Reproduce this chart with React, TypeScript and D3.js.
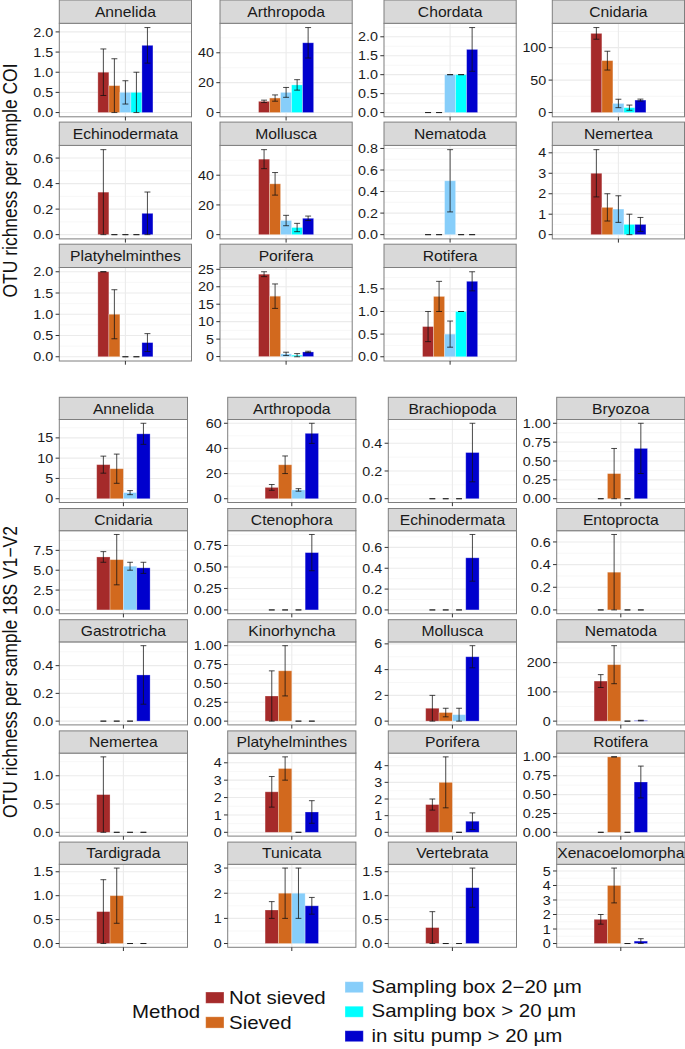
import React from "react";
import * as d3 from "d3";

// ---------------- DATA ----------------
const methods = [
  "Not sieved",
  "Sieved",
  "Sampling box 2\u221220 \u00b5m",
  "Sampling box > 20 \u00b5m",
  "in situ pump > 20 \u00b5m",
];
const methodColors = ["#A52A2A", "#D2691E", "#87CEFA", "#00FFFF", "#0000CD"];

// COI (all 5 methods)
const coiTaxa = [
  "Annelida", "Arthropoda", "Chordata", "Cnidaria",
  "Echinodermata", "Mollusca", "Nematoda", "Nemertea",
  "Platyhelminthes", "Porifera", "Rotifera",
];
const coiMeans = [
  [1.0, 0.667, 0.5, 0.5, 1.667],
  [7.5, 9.7, 13.5, 18.5, 46.7],
  [0, 0, 1.0, 1.0, 1.667],
  [122, 80, 14, 7.5, 19.2],
  [0.333, 0, 0, 0, 0.167],
  [50.8, 34.2, 9.5, 4.8, 11],
  [0, 0, 0.5, 0, 0],
  [3, 1.333, 1.25, 0.5, 0.5],
  [2, 1, 0, 0, 0.333],
  [23.6, 17.3, 0.77, 0.4, 1.33],
  [0.667, 1.333, 0.5, 1.0, 1.667],
];
const coiSE = [
  [0.577, 0.667, 0.289, 0.5, 0.441],
  [0.8, 2.1, 3.3, 3.5, 10.2],
  [0, 0, 0, 0, 0.577],
  [9, 14.5, 6.5, 4, 1.5],
  [0.333, 0, 0, 0, 0.167],
  [6.4, 7.6, 3.5, 2.8, 1.5],
  [0, 0, 0.289, 0, 0],
  [1.155, 0.667, 0.65, 0.5, 0.34],
  [0, 0.577, 0, 0, 0.211],
  [0.7, 3.5, 0.48, 0.45, 0.2],
  [0.333, 0.333, 0.289, 0, 0.211],
];
const coiTicks = [
  ["0.0", "0.5", "1.0", "1.5", "2.0"],
  ["0", "20", "40"],
  ["0.0", "0.5", "1.0", "1.5", "2.0"],
  ["0", "50", "100"],
  ["0.0", "0.2", "0.4", "0.6"],
  ["0", "20", "40"],
  ["0.0", "0.2", "0.4", "0.6", "0.8"],
  ["0", "1", "2", "3", "4"],
  ["0.0", "0.5", "1.0", "1.5", "2.0"],
  ["0", "5", "10", "15", "20", "25"],
  ["0.0", "0.5", "1.0", "1.5"],
];

// 18S V1-V2 (4 methods: Not sieved, Sieved, Sampling box 2-20, in situ pump)
const s18MethodIdx = [0, 1, 2, 4];
const s18Taxa = [
  "Annelida", "Arthropoda", "Brachiopoda", "Bryozoa",
  "Cnidaria", "Ctenophora", "Echinodermata", "Entoprocta",
  "Gastrotricha", "Kinorhyncha", "Mollusca", "Nematoda",
  "Nemertea", "Platyhelminthes", "Porifera", "Rotifera",
  "Tardigrada", "Tunicata", "Vertebrata", "Xenacoelomorpha",
];
const s18Means = [
  [8.4, 7.4, 1.5, 16],
  [9, 27, 7, 52],
  [0, 0, 0, 0.333],
  [0, 0.333, 0, 0.667],
  [6.67, 6.33, 5.5, 5.3],
  [0, 0, 0, 0.667],
  [0, 0, 0, 0.5],
  [0, 0.333, 0, 0],
  [0, 0, 0, 0.333],
  [0.333, 0.667, 0, 0],
  [1, 0.667, 0.5, 5],
  [137, 193, 0, 2],
  [0.667, 0, 0, 0],
  [2.33, 3.67, 0, 1.17],
  [1.667, 3, 0, 0.667],
  [0, 1, 0, 0.667],
  [0.667, 1, 0, 0],
  [1.333, 2, 2, 1.5],
  [0.333, 0, 0, 1.167],
  [1.667, 4, 0, 0.167],
];
const s18SE = [
  [2.1, 3.6, 0.5, 2.6],
  [2.3, 7, 1, 8],
  [0, 0, 0, 0.211],
  [0, 0.333, 0, 0.333],
  [0.67, 3.17, 0.5, 0.7],
  [0, 0, 0, 0.211],
  [0, 0, 0, 0.224],
  [0, 0.333, 0, 0],
  [0, 0, 0, 0.211],
  [0.333, 0.333, 0, 0],
  [1, 0.333, 0.5, 0.86],
  [22, 65, 0, 1],
  [0.667, 0, 0, 0],
  [0.88, 0.67, 0, 0.65],
  [0.333, 1.53, 0, 0.5],
  [0, 0, 0, 0.211],
  [0.667, 0.577, 0, 0],
  [0.333, 1, 1, 0.333],
  [0.333, 0, 0, 0.41],
  [0.333, 1.2, 0, 0.167],
];
const s18Ticks = [
  ["0", "5", "10", "15"],
  ["0", "20", "40", "60"],
  ["0.0", "0.2", "0.4"],
  ["0.00", "0.25", "0.50", "0.75", "1.00"],
  ["0.0", "2.5", "5.0", "7.5"],
  ["0.00", "0.25", "0.50", "0.75"],
  ["0.0", "0.2", "0.4", "0.6"],
  ["0.0", "0.2", "0.4", "0.6"],
  ["0.0", "0.2", "0.4"],
  ["0.00", "0.25", "0.50", "0.75", "1.00"],
  ["0", "2", "4", "6"],
  ["0", "100", "200"],
  ["0.0", "0.5", "1.0"],
  ["0", "1", "2", "3", "4"],
  ["0", "1", "2", "3", "4"],
  ["0.00", "0.25", "0.50", "0.75", "1.00"],
  ["0.0", "0.5", "1.0", "1.5"],
  ["0", "1", "2", "3"],
  ["0.0", "0.5", "1.0", "1.5"],
  ["0", "1", "2", "3", "4", "5"],
];

const yTitleCOI = "OTU richness per sample COI";
const yTitle18S = "OTU richness per sample 18S V1\u2212V2";
const legendTitle = "Method";

// ---------------- LAYOUT ----------------
const W = 685;
const H = 1049;
const FONT = "'Liberation Sans', Arial, Helvetica, sans-serif";
const SX = 1.12; // horizontal text stretch of the reference
const LSX = 1.17;

const coiLayout = {
  lefts: [59.3, 220, 384, 552.3],
  width: 132.2,
  top0: 0,
  pitch: 122.1,
  stripH: 23.3,
  panelH: 93.5,
};
const s18Layout = {
  lefts: [59.3, 227.7, 388.3, 556.7],
  width: 128.2,
  top0: 397.3,
  pitch: 111.2,
  stripH: 22.2,
  panelH: 83,
};

function T({ x, y, size, anchor = "start", sx = SX, fill = "#1a1a1a", children }) {
  return (
    <text
      transform={`translate(${x},${y}) scale(${sx},1)`}
      fontSize={size}
      fontFamily={FONT}
      textAnchor={anchor}
      fill={fill}
    >
      {children}
    </text>
  );
}

function Panel({ left, top, width, stripH, panelH, name, means, se, ticks, colors }) {
  const n = means.length;
  const pTop = top + stripH;
  const pBot = pTop + panelH;
  const x = d3.scaleLinear().domain([0.4, 1.6]).range([left, left + width]);
  const lows = means.map((m, i) => m - se[i]);
  const highs = means.map((m, i) => m + se[i]);
  const lo = Math.min(0, d3.min(lows) as number);
  const hi = Math.max(0, d3.max(highs) as number);
  const pad = (hi - lo) * 0.05;
  const y = d3.scaleLinear().domain([lo - pad, hi + pad]).range([pBot, pTop]);
  const [d0, d1] = y.domain();

  const majors = ticks.map(Number);
  const step = majors[1] - majors[0];
  const minors: number[] = [];
  for (let v = majors[0] - step / 2; v <= majors[majors.length - 1] + step / 2 + 1e-9; v += step) {
    if (v >= d0 && v <= d1) minors.push(v);
  }

  const band = 0.5 / n;
  const xc = (i: number) => 1 - 0.25 + (i + 0.5) * band;
  const capHalf = x(1.027) - x(1);

  return (
    <g>
      <rect x={left} y={pTop} width={width} height={panelH} fill="#fff" />
      {minors.map((v, i) => (
        <line key={"mi" + i} x1={left} x2={left + width} y1={y(v)} y2={y(v)} stroke="#F2F2F2" strokeWidth={0.6} />
      ))}
      {majors.map((v, i) => (
        <line key={"ma" + i} x1={left} x2={left + width} y1={y(v)} y2={y(v)} stroke="#EBEBEB" strokeWidth={1.1} />
      ))}
      <line x1={x(1)} x2={x(1)} y1={pTop} y2={pBot} stroke="#EBEBEB" strokeWidth={1.1} />
      {means.map((m, i) => (
        <rect
          key={"b" + i}
          x={x(xc(i) - band / 2)}
          width={x(xc(i) + band / 2) - x(xc(i) - band / 2)}
          y={Math.min(y(m), y(0))}
          height={Math.abs(y(0) - y(m))}
          fill={colors[i]}
          stroke="#ffffff"
          strokeOpacity={0.35}
          strokeWidth={0.8}
        />
      ))}
      {means.map((m, i) => {
        const cx = x(xc(i));
        const yl = y(m - se[i]);
        const yh = y(m + se[i]);
        return (
          <g key={"e" + i} stroke="#111" strokeOpacity={0.85} strokeWidth={0.9}>
            <line x1={cx} x2={cx} y1={yl} y2={yh} />
            <line x1={cx - capHalf} x2={cx + capHalf} y1={yl} y2={yl} />
            <line x1={cx - capHalf} x2={cx + capHalf} y1={yh} y2={yh} />
          </g>
        );
      })}
      <rect x={left} y={pTop} width={width} height={panelH} fill="none" stroke="#7F7F7F" strokeWidth={1} />
      <rect x={left} y={top} width={width} height={stripH} fill="#D9D9D9" stroke="#7F7F7F" strokeWidth={1} />
      <T x={left + width / 2} y={top + stripH / 2 + 5.2} size={14} anchor="middle">
        {name}
      </T>
      {majors.map((v, i) => (
        <g key={"t" + i}>
          <line x1={left - 3.7} x2={left} y1={y(v)} y2={y(v)} stroke="#333" strokeWidth={1} />
          <T x={left - 6} y={y(v) + 4.6} size={12.8} anchor="end">
            {ticks[i]}
          </T>
        </g>
      ))}
      <line x1={x(1)} x2={x(1)} y1={pBot} y2={pBot + 3.7} stroke="#333" strokeWidth={1} />
    </g>
  );
}

export default function App() {
  const coiColors = methodColors;
  const s18Colors = s18MethodIdx.map((k) => methodColors[k]);

  const coiPanels = coiTaxa.map((name, i) => {
    const c = i % 4;
    const r = Math.floor(i / 4);
    return (
      <Panel
        key={"coi" + i}
        left={coiLayout.lefts[c]}
        top={coiLayout.top0 + r * coiLayout.pitch}
        width={coiLayout.width}
        stripH={coiLayout.stripH}
        panelH={coiLayout.panelH}
        name={name}
        means={coiMeans[i]}
        se={coiSE[i]}
        ticks={coiTicks[i]}
        colors={coiColors}
      />
    );
  });

  const s18Panels = s18Taxa.map((name, i) => {
    const c = i % 4;
    const r = Math.floor(i / 4);
    return (
      <Panel
        key={"s18" + i}
        left={s18Layout.lefts[c]}
        top={s18Layout.top0 + r * s18Layout.pitch}
        width={s18Layout.width}
        stripH={s18Layout.stripH}
        panelH={s18Layout.panelH}
        name={name}
        means={s18Means[i]}
        se={s18SE[i]}
        ticks={s18Ticks[i]}
        colors={s18Colors}
      />
    );
  });

  const col1 = [0, 1];
  const col2 = [2, 3, 4];

  return (
    <svg
      width={W}
      height={H}
      viewBox={`0 0 ${W} ${H}`}
      style={{ position: "absolute", left: 0, top: 0, display: "block", background: "#fff" }}
    >
      <rect x={0} y={0} width={W} height={H} fill="#fff" />
      {coiPanels}
      {s18Panels}

      <text
        transform={`translate(16.5,180.5) scale(${SX},1) rotate(-90)`}
        fontSize={17.5}
        fontFamily={FONT}
        textAnchor="middle"
        fill="#111"
      >
        {yTitleCOI}
      </text>
      <text
        transform={`translate(16.5,672) scale(${SX},1) rotate(-90)`}
        fontSize={17.5}
        fontFamily={FONT}
        textAnchor="middle"
        fill="#111"
      >
        {yTitle18S}
      </text>

      {/* Legend */}
      <T x={132} y={1018} size={17.5} sx={LSX} fill="#111">
        {legendTitle}
      </T>
      {col1.map((k, j) => (
        <g key={"l1" + k}>
          <rect x={205.7} y={992 + j * 24.8} width={18.3} height={11.3} fill={methodColors[k]} stroke="#fff" strokeOpacity={0.4} strokeWidth={0.8} />
          <T x={229} y={1004 + j * 24.8} size={17.5} sx={LSX} fill="#111">
            {methods[k]}
          </T>
        </g>
      ))}
      {col2.map((k, j) => (
        <g key={"l2" + k}>
          <rect x={345} y={981.7 + j * 24.5} width={18.3} height={11} fill={methodColors[k]} stroke="#fff" strokeOpacity={0.4} strokeWidth={0.8} />
          <T x={371.5} y={992.8 + j * 24.5} size={17.5} sx={LSX} fill="#111">
            {methods[k]}
          </T>
        </g>
      ))}
    </svg>
  );
}
